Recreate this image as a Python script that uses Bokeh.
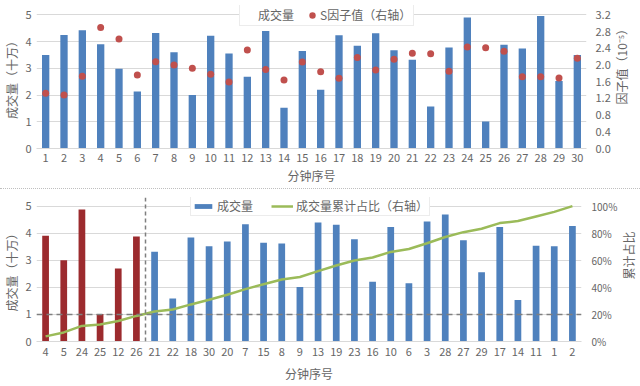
import math
from bokeh.plotting import figure
from bokeh.models import (Range1d, LinearAxis, FixedTicker, NumeralTickFormatter,
                          Span, Legend, LegendItem, Div, ColumnDataSource)
from bokeh.core.properties import value
from bokeh.layouts import column, row
from bokeh.embed import file_html
from bokeh.resources import INLINE

# ---------------- data ----------------
minutes = list(range(1, 31))
volume = [3.50, 4.25, 4.42, 3.90, 2.98, 2.13, 4.32, 3.60, 2.00, 4.22,
          3.55, 2.68, 4.40, 1.52, 3.65, 2.20, 4.24, 3.84, 4.31, 3.68,
          3.32, 1.57, 3.78, 4.90, 1.01, 3.88, 3.74, 4.96, 2.53, 3.50]
s_factor = [1.32, 1.28, 1.73, 2.90, 2.62, 1.76, 2.08, 2.00, 1.92, 1.78,
            1.59, 2.36, 1.89, 1.64, 2.07, 1.84, 1.68, 2.18, 1.88, 2.14,
            2.28, 2.27, 1.85, 2.43, 2.41, 2.33, 1.72, 1.72, 1.69, 2.16]

sorted_minutes = [4, 5, 24, 25, 12, 26, 21, 22, 18, 30, 20, 7, 15, 8, 9,
                  13, 19, 23, 16, 10, 6, 3, 28, 27, 29, 17, 14, 11, 1, 2]
sorted_volume = [3.91, 3.00, 4.88, 1.02, 2.70, 3.88, 3.32, 1.59, 3.84, 3.52,
                 3.69, 4.33, 3.65, 3.62, 2.01, 4.40, 4.31, 3.78, 2.21, 4.23,
                 2.15, 4.43, 4.69, 3.74, 2.56, 4.23, 1.53, 3.54, 3.52, 4.27]
cum_share = [0.038, 0.067, 0.115, 0.125, 0.151, 0.189, 0.221, 0.237, 0.274, 0.309,
             0.345, 0.387, 0.423, 0.458, 0.477, 0.520, 0.562, 0.599, 0.621, 0.662,
             0.683, 0.726, 0.772, 0.808, 0.833, 0.875, 0.890, 0.924, 0.958, 1.000]
top_count = 6

left_ticks = [0, 1, 2, 3, 4, 5]
factor_ticks = [0.0, 0.4, 0.8, 1.2, 1.6, 2.0, 2.4, 2.8, 3.2]
share_ticks = [0.0, 0.2, 0.4, 0.6, 0.8, 1.0]

# ---------------- styles ----------------
FONT = "Noto Sans CJK SC"
BLUE = "#4F81BD"
RED_DOT = "#C0504D"
DARK_RED = "#9C2B2E"
GREEN = "#9BBB59"
GRID = "#D9D9D9"
TXT = "#666666"
W = 640
BL = 34


def style_axis(ax, label, tick_size="11px", standoff=4, label_standoff=2):
    ax.major_label_text_font = FONT
    ax.major_label_text_font_size = tick_size
    ax.major_label_text_color = TXT
    ax.major_tick_line_color = None
    ax.minor_tick_line_color = None
    ax.major_tick_out = 0
    ax.major_tick_in = 0
    ax.minor_tick_out = 0
    ax.minor_tick_in = 0
    ax.major_label_standoff = standoff
    if label:
        ax.axis_label = label
        ax.axis_label_standoff = label_standoff
        ax.axis_label_text_font = FONT
        ax.axis_label_text_font_size = "12px"
        ax.axis_label_text_font_style = "normal"
        ax.axis_label_text_color = TXT


def side_title(text, width, height, cx, cy):
    """narrow companion figure holding a right-side title that reads bottom-to-top"""
    f = figure(width=width, height=height, x_range=Range1d(0, width), y_range=Range1d(0, height),
               output_backend="svg", toolbar_location=None, x_axis_type=None, y_axis_type=None,
               min_border=0, min_border_left=0, min_border_right=0,
               min_border_top=0, min_border_bottom=0)
    f.outline_line_color = None
    f.grid.visible = False
    f.text(x=[cx], y=[height - cy], text=[text], angle=math.pi / 2,
           text_align="center", text_baseline="middle",
           text_font=value(FONT), text_font_size=value("12px"), text_color=TXT)
    return f


# ---------------- top chart ----------------
H1, T1, B1 = 188, 5, 40
W1, BR1 = 614, 28
Y1 = 5.35
FH1 = H1 - T1 - B1
p1 = figure(width=W1, height=H1, x_range=Range1d(0.5, 30.5), y_range=Range1d(0, Y1),
            output_backend="svg", toolbar_location=None,
            min_border_left=BL, min_border_right=BR1, min_border_top=T1, min_border_bottom=B1)
p1.outline_line_color = None
p1.xgrid.visible = False
p1.ygrid.grid_line_color = GRID
p1.extra_y_ranges = {"factor": Range1d(0, 3.2 * Y1 / 5)}

src1 = ColumnDataSource(dict(x=minutes, vol=volume, s=s_factor))
p1.vbar(x="x", top="vol", width=0.4, source=src1, fill_color=BLUE, line_color=None)
dots1 = p1.scatter(x="x", y="s", source=src1, y_range_name="factor", size=7,
                   fill_color=RED_DOT, line_color=None)
sq_dummy = p1.scatter(x=[], y=[], marker="square", fill_color=BLUE, line_color=None)

p1.yaxis.ticker = FixedTicker(ticks=left_ticks)
p1.yaxis.axis_line_color = None
style_axis(p1.yaxis[0], "成交量（十万）", standoff=5, label_standoff=2)

p1.xaxis.ticker = FixedTicker(ticks=minutes)
p1.xaxis.axis_line_color = GRID
style_axis(p1.xaxis[0], "分钟序号", standoff=5, label_standoff=2)

rax1 = LinearAxis(y_range_name="factor", ticker=FixedTicker(ticks=factor_ticks),
                  formatter=NumeralTickFormatter(format="0.0"), axis_line_color=None)
style_axis(rax1, None, standoff=9)
p1.add_layout(rax1, "right")

leg1 = Legend(items=[LegendItem(label="成交量", renderers=[sq_dummy]),
                     LegendItem(label="S因子值（右轴）", renderers=[dots1])],
              location=(203, FH1 - 21), orientation="horizontal",
              glyph_width=16, glyph_height=16, label_height=16, label_standoff=0,
              spacing=10, padding=2, margin=0,
              label_text_font=FONT, label_text_font_size="12px", label_text_color=TXT,
              border_line_color=GRID, background_fill_color="white", background_fill_alpha=1)
p1.add_layout(leg1, "center")

t1 = side_title("因子值（10⁻⁵）", W - W1, H1, 7, T1 + FH1 / 2)

# ---------------- separator ----------------
sep = Div(text="", width=W, height=2, margin=0,
          styles={"border-top": "1px dotted #BFBFBF", "box-sizing": "border-box"})

# ---------------- bottom chart ----------------
H2, T2, B2 = 196, 7, 45
W2, BR2 = 620, 34
Y2 = 5.32
FH2 = H2 - T2 - B2
pos = list(range(1, 31))

p2 = figure(width=W2, height=H2, x_range=Range1d(0.5, 30.5), y_range=Range1d(0, Y2),
            output_backend="svg", toolbar_location=None,
            min_border_left=BL, min_border_right=BR2, min_border_top=T2, min_border_bottom=B2)
p2.outline_line_color = None
p2.xgrid.visible = False
p2.ygrid.grid_line_color = GRID
p2.extra_y_ranges = {"share": Range1d(0, Y2 / 5)}

src_top = ColumnDataSource(dict(x=pos[:top_count], vol=sorted_volume[:top_count]))
src_rest = ColumnDataSource(dict(x=pos[top_count:], vol=sorted_volume[top_count:]))
src_line = ColumnDataSource(dict(x=pos, cum=cum_share))
p2.vbar(x="x", top="vol", width=0.37, source=src_top, fill_color=DARK_RED, line_color=None)
bars_blue = p2.vbar(x="x", top="vol", width=0.37, source=src_rest, fill_color=BLUE,
                    line_color=None)
line2 = p2.line(x="x", y="cum", source=src_line, y_range_name="share",
                line_color=GREEN, line_width=2.5)

p2.add_layout(Span(location=top_count + 0.5, dimension="height", line_color="#7F7F7F",
                   line_width=1.5, line_dash="4 3"))
p2.add_layout(Span(location=1.0, dimension="width", line_color="#7F7F7F",
                   line_width=1.5, line_dash="6 4"))

p2.yaxis.ticker = FixedTicker(ticks=left_ticks)
p2.yaxis.axis_line_color = None
style_axis(p2.yaxis[0], "成交量（十万）", standoff=5, label_standoff=2)

p2.xaxis.ticker = FixedTicker(ticks=pos)
p2.xaxis.major_label_overrides = {i + 1: str(m) for i, m in enumerate(sorted_minutes)}
p2.xaxis.axis_line_color = GRID
style_axis(p2.xaxis[0], "分钟序号", standoff=6, label_standoff=6)

rax2 = LinearAxis(y_range_name="share", ticker=FixedTicker(ticks=share_ticks),
                  formatter=NumeralTickFormatter(format="0%"), axis_line_color=None)
style_axis(rax2, None, tick_size="10px", standoff=10)
p2.add_layout(rax2, "right")

leg2 = Legend(items=[LegendItem(label="成交量", renderers=[bars_blue]),
                     LegendItem(label="成交量累计占比（右轴）", renderers=[line2])],
              location=(154, FH2 - 19), orientation="horizontal",
              glyph_width=22, glyph_height=6, label_height=16, label_standoff=3,
              spacing=18, padding=1, margin=0,
              label_text_font=FONT, label_text_font_size="12px", label_text_color=TXT,
              border_line_color=GRID, background_fill_color="white", background_fill_alpha=1)
p2.add_layout(leg2, "center")

t2 = side_title("累计占比", W - W2, H2, 8, T2 + FH2 / 2)

layout = column(row(p1, t1, spacing=0), sep, row(p2, t2, spacing=0), spacing=0)
open("out.html", "w").write(file_html(layout, INLINE))
